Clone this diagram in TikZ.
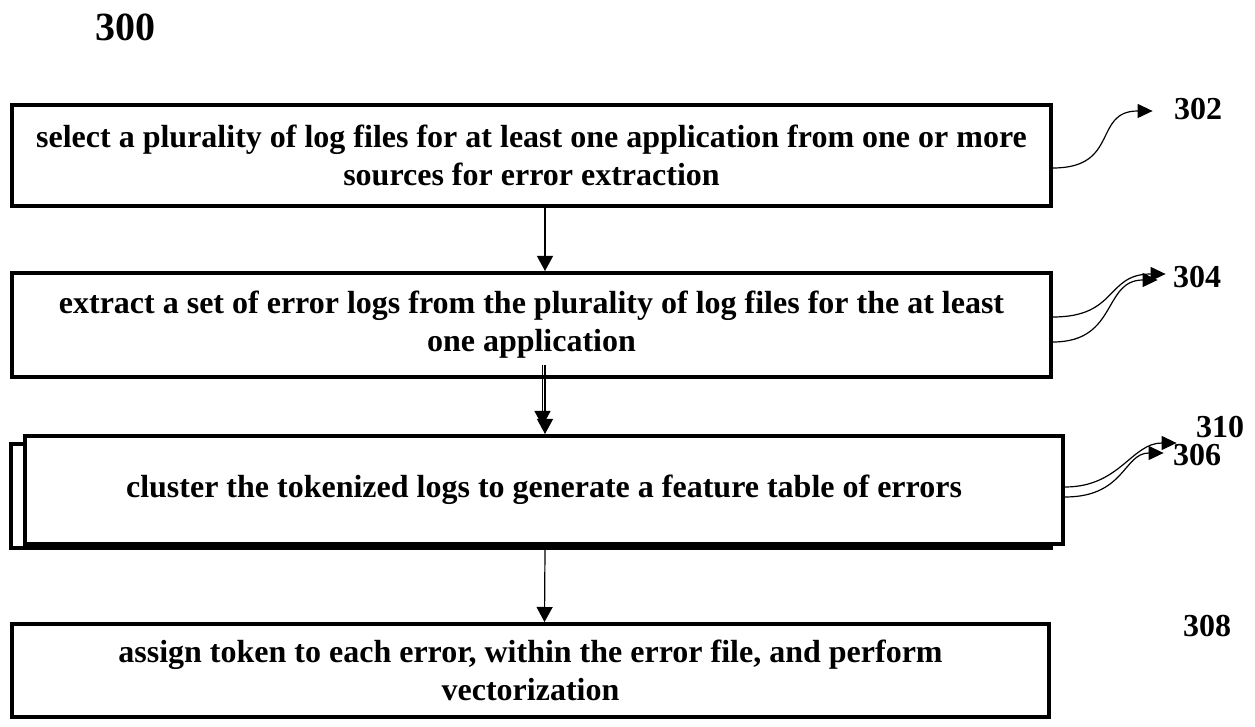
\documentclass[tikz,border=0pt]{standalone}
\usepackage{fontspec}
\setmainfont{Liberation Serif}
\usepackage{tikz}
\usetikzlibrary{arrows.meta, positioning}

\begin{document}
\begin{tikzpicture}[
    x=0.5pt, y=-0.5pt,
    block/.style={rectangle, draw, fill=white, line width=2pt, inner sep=0pt, anchor=north west, align=center, font=\fontsize{16}{19}\selectfont\bfseries},
    tag/.style={inner sep=0pt, font=\fontsize{16}{19}\selectfont\bfseries},
    arrow/.style={-{Triangle[length=7.5pt,width=8pt]}, line width=0.6pt},
    squiggle/.style={-{Triangle[length=7.5pt,width=7pt]}, line width=0.6pt}
]
    \useasboundingbox (0,0) rectangle (1255,727);
    % Nodes
    \node (fig) [tag, font=\fontsize{20}{24}\selectfont\bfseries] at (125,27) {300};
    \node (select) [block, minimum width=519.5pt, minimum height=50.5pt] at (10,103) {select a plurality of log files for at least one application from one or more\\sources for error extraction};
    \node (extract) [block, minimum width=519.5pt, minimum height=52pt] at (10,271) {extract a set of error logs from the plurality of log files for the at least\\one application};
    \node (clusterback) [block, minimum width=520pt, minimum height=52pt] at (9,442) {};
    \node (cluster) [block, minimum width=519pt, minimum height=54pt] at (23,434) {cluster the tokenized logs to generate a feature table of errors};
    \node (assign) [block, minimum width=518.5pt, minimum height=46.5pt] at (10,622) {assign token to each error, within the error file, and perform\\vectorization};
    \node (l302) [tag] at (1198,109) {302};
    \node (l304) [tag] at (1197,277) {304};
    \node (l310) [tag] at (1220,427) {310};
    \node (l306) [tag] at (1197,455) {306};
    \node (l308) [tag] at (1207,626) {308};

    % Paths
    \draw [arrow] ([xshift=6.75pt]select.south) -- ([xshift=6.75pt]extract.north);
    \draw [arrow] ([xshift=5.5pt, yshift=7pt]extract.south) -- ([xshift=-0.75pt, yshift=4pt]cluster.north);
    \draw [arrow] ([xshift=6.75pt, yshift=7pt]extract.south) -- ([xshift=0.5pt]cluster.north);
    \draw [arrow] ([xshift=7pt]clusterback.south) -- ([xshift=7pt]assign.north);

    % reference numerals
    \draw [squiggle] ([yshift=-6.25pt]select.east) .. controls +(67,0) and +(-60,0) .. ([xshift=-10.5pt, yshift=-1pt]l302.west);
    \draw [squiggle] ([yshift=4pt]extract.east) .. controls +(65,0) and +(-60,0) .. ([xshift=-3.5pt, yshift=1.5pt]l304.west);
    \draw [squiggle] ([yshift=-8.5pt]extract.east) .. controls +(65,0) and +(-55,0) .. ([xshift=-7.5pt, yshift=-1.5pt]l304.west);
    \draw [squiggle] ([yshift=1.5pt]cluster.east) .. controls +(55,0) and +(-45,0) .. ([xshift=-9.5pt, yshift=-8pt]l310.west);
    \draw [squiggle] ([yshift=-3.5pt]cluster.east) .. controls +(60,0) and +(-40,0) .. ([xshift=-4.5pt, yshift=1pt]l306.west);
\end{tikzpicture}
\end{document}
